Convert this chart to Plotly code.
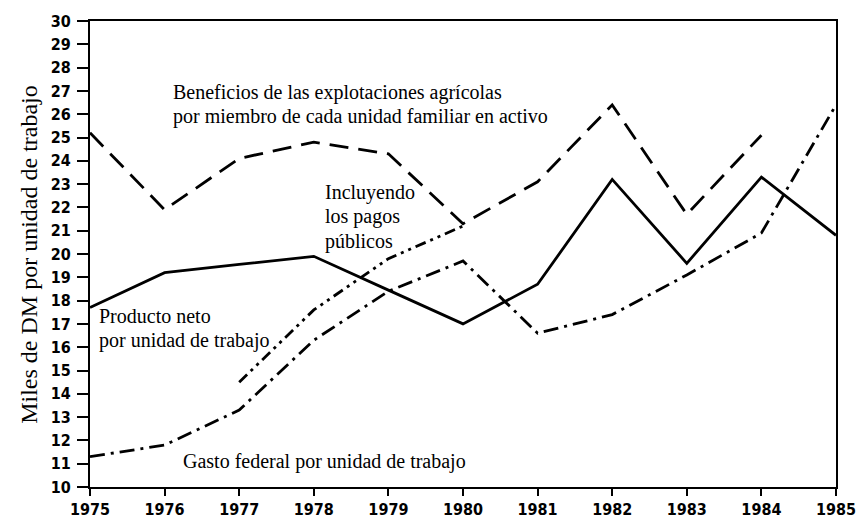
import plotly.graph_objects as go

years = [1975, 1976, 1977, 1978, 1979, 1980, 1981, 1982, 1983, 1984, 1985]
producto_neto = [17.7, 19.2, 19.55, 19.9, 18.45, 17.0, 18.7, 23.2, 19.6, 23.3, 20.8]
beneficios_years = [1975, 1976, 1977, 1978, 1979, 1980, 1981, 1982, 1983, 1984]
beneficios = [25.2, 21.9, 24.1, 24.8, 24.3, 21.3, 23.1, 26.4, 21.7, 25.1]
gasto_federal = [11.3, 11.8, 13.3, 16.3, 18.4, 19.7, 16.6, 17.4, 19.1, 20.9, 26.4]
incluyendo_years = [1977, 1978, 1979, 1980]
incluyendo = [14.5, 17.6, 19.8, 21.2]
y_ticks = list(range(10, 31))

serif = "Liberation Serif"
tickfam = "Liberation Sans Narrow, DejaVu Sans Condensed, DejaVu Sans"
lw = 2.8

fig = go.Figure()
fig.add_trace(go.Scatter(x=years, y=producto_neto, mode="lines",
                         line=dict(color="black", width=lw)))
fig.add_trace(go.Scatter(x=beneficios_years, y=beneficios, mode="lines",
                         line=dict(color="black", width=lw, dash="19px,10px")))
fig.add_trace(go.Scatter(x=years, y=gasto_federal, mode="lines",
                         line=dict(color="black", width=lw, dash="15px,6px,3px,6px")))
fig.add_trace(go.Scatter(x=incluyendo_years, y=incluyendo, mode="lines",
                         line=dict(color="black", width=lw, dash="11px,5px,3px,5px,3px,5px")))

def note(x, y, text):
    fig.add_annotation(x=x, y=y, xref="x", yref="y", text=text, showarrow=False,
                       xanchor="left", yanchor="middle",
                       font=dict(family=serif, size=20, color="black"))

note(1976.08, 26.95, "Beneficios de las explotaciones agrícolas")
note(1976.08, 25.9, "por miembro de cada unidad familiar en activo")
note(1978.12, 22.65, "Incluyendo")
note(1978.12, 21.6, "los pagos")
note(1978.12, 20.55, "públicos")
note(1975.1, 17.35, "Producto neto")
note(1975.1, 16.3, "por unidad de trabajo")
note(1976.22, 11.1, "Gasto federal por unidad de trabajo")

fig.add_annotation(x=-0.082, y=0.5, xref="paper", yref="paper",
                   text="Miles de DM por unidad de trabajo", showarrow=False,
                   textangle=-90, xanchor="center", yanchor="middle",
                   font=dict(family=serif, size=24, color="black"))

fig.update_layout(
    width=868, height=531,
    margin=dict(l=90, r=21, t=21, b=26),
    paper_bgcolor="white", plot_bgcolor="white",
    showlegend=False,
    xaxis=dict(range=[1975, 1985], tickvals=years, ticktext=[str(y) for y in years],
               showgrid=False, zeroline=False, showline=True, linecolor="black",
               linewidth=2, mirror=True, ticks="outside", ticklen=7, tickwidth=2,
               tickcolor="black",
               tickfont=dict(family=tickfam, size=16, color="black", weight="bold")),
    yaxis=dict(range=[10, 30], tickvals=y_ticks, showgrid=False, zeroline=False,
               showline=True, linecolor="black", linewidth=2, mirror=True,
               ticks="outside", ticklen=11, tickwidth=2, tickcolor="black",
               ticklabelstandoff=3,
               tickfont=dict(family=tickfam, size=16, color="black", weight="bold")),
)

fig.write_html("out.html", config={"displayModeBar": False},
               post_script="document.body.style.margin='0';document.body.style.padding='0';")
